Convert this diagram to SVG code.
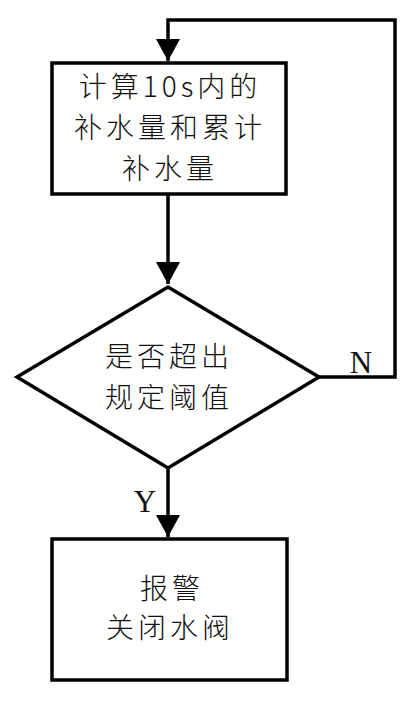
<svg xmlns="http://www.w3.org/2000/svg" width="412" height="708" viewBox="0 0 412 708">
<style>
.shape{fill:#fff;stroke:#000;stroke-width:3.5}
.edge{fill:none;stroke:#000;stroke-width:3.5}
.t{font-family:"Noto Sans CJK SC","Liberation Serif",serif;font-size:28px;letter-spacing:4px;font-weight:300;fill:#111;text-anchor:middle}
.l{font-family:"Liberation Serif","Noto Sans CJK SC",serif;font-size:31px;fill:#111;text-anchor:middle}
</style>
<defs>
<marker id="arr" markerUnits="userSpaceOnUse" markerWidth="24" markerHeight="26" refX="22" refY="12" orient="auto">
<polygon points="0,0 22,12 0,24" fill="#000"/>
</marker>
</defs>
<rect width="412" height="708" fill="#fff"/>
<g id="connectors">
<path class="edge" d="M168,194 V284" marker-end="url(#arr)"/>
<path class="edge" d="M168,468 V537" marker-end="url(#arr)"/>
<path class="edge" d="M319,377 H395 V20 H168 V61" marker-end="url(#arr)"/>
<text class="l" x="361" y="373">N</text>
<text class="l" x="145" y="512">Y</text>
</g>
<g id="calc">
<rect class="shape" x="52" y="63" width="234" height="131"/>
<text class="t" x="170" y="97">计算10s内的</text>
<text class="t" x="170" y="138">补水量和累计</text>
<text class="t" x="170" y="179">补水量</text>
</g>
<g id="check">
<polygon class="shape" points="168,287 319,377 168,468 17,377"/>
<text class="t" x="169" y="367">是否超出</text>
<text class="t" x="169" y="408">规定阈值</text>
</g>
<g id="alarm">
<rect class="shape" x="52" y="539" width="235" height="141"/>
<text class="t" x="172" y="599">报警</text>
<text class="t" x="170" y="638">关闭水阀</text>
</g>
</svg>
